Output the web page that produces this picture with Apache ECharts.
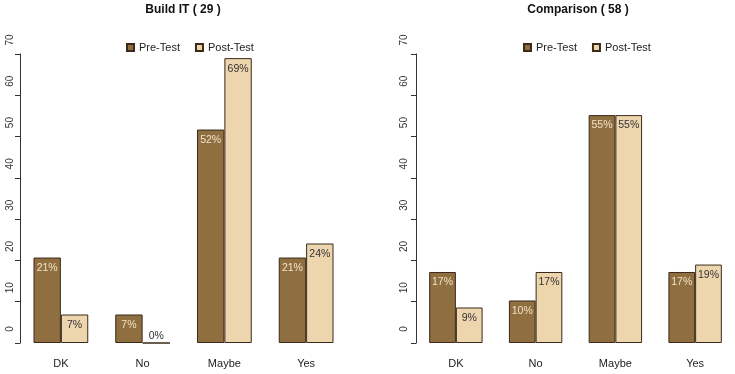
<!DOCTYPE html>
<html>
<head>
<meta charset="utf-8">
<script src="https://cdn.jsdelivr.net/npm/echarts@6/dist/echarts.min.js"></script>
<style>html,body{margin:0;padding:0;background:#fff}#c{width:735px;height:374px}</style>
</head>
<body>
<div id="c"></div>
<script>
const categories = ['DK', 'No', 'Maybe', 'Yes'];
const buildPre = [20.7, 6.9, 51.7, 20.7];
const buildPost = [6.9, 0, 69.0, 24.1];
const compPre = [17.2, 10.3, 55.2, 17.2];
const compPost = [8.6, 17.2, 55.2, 19.0];
const titles = ['Build IT ( 29 )', 'Comparison ( 58 )'];
const seriesNames = ['Pre-Test', 'Post-Test'];
const yTicks = { min: 0, max: 70, interval: 10 };

const FONT = '"Liberation Sans", Arial, sans-serif';
const PRE = '#8f6f40', POST = '#edd5ae', EDGE = '#3b2a1a';

const chart = echarts.init(document.getElementById('c'), null, { renderer: 'canvas' });

function items(vals, color) {
  return vals.map(v => v === 0
    ? { value: v, label: { position: 'top', distance: 1, color: color } }
    : v);
}

function bars(name, vals, idx, fill, lblColor) {
  return {
    type: 'bar', name: name, xAxisIndex: idx, yAxisIndex: idx,
    data: items(vals, '#333'),
    barGap: '0%', barCategoryGap: '33%',
    itemStyle: { color: fill, borderColor: EDGE, borderWidth: 1 },
    label: {
      show: true, position: 'insideTop', distance: 5,
      color: lblColor, fontFamily: FONT, fontSize: 10.5,
      formatter: p => Math.round(p.value) + '%'
    },
    emphasis: { disabled: true },
    animation: false
  };
}

function yAx(idx) {
  return {
    type: 'value', gridIndex: idx, min: yTicks.min, max: yTicks.max, interval: yTicks.interval,
    splitLine: { show: false },
    axisLine: { show: true, lineStyle: { color: '#333' } },
    axisTick: { show: true, length: 5, lineStyle: { color: '#333' } },
    axisLabel: { rotate: 90, margin: idx === 0 ? 5 : 7, padding: [0, 0, 0, 28], color: '#333', fontFamily: FONT, fontSize: 10 }
  };
}

function xAx(idx) {
  return {
    type: 'category', gridIndex: idx, data: categories,
    axisLine: { show: false }, axisTick: { show: false },
    axisLabel: { margin: 15, color: '#222', fontFamily: FONT, fontSize: 11 }
  };
}

chart.setOption({
  backgroundColor: '#fff',
  animation: false,
  title: [
    { text: titles[0], left: 183, top: 4, padding: 0, textAlign: 'center',
      textStyle: { fontFamily: FONT, fontWeight: 'bold', fontSize: 12, color: '#111' } },
    { text: titles[1], left: 578, top: 4, padding: 0, textAlign: 'center',
      textStyle: { fontFamily: FONT, fontWeight: 'bold', fontSize: 12, color: '#111' } }
  ],
  legend: [
    { left: 121, top: 37, itemWidth: 7, itemHeight: 7, itemGap: 15, icon: 'rect',
      data: seriesNames, textStyle: { fontFamily: FONT, fontSize: 11, color: '#222' }, selectedMode: false },
    { left: 518, top: 37, itemWidth: 7, itemHeight: 7, itemGap: 15, icon: 'rect',
      data: seriesNames, textStyle: { fontFamily: FONT, fontSize: 11, color: '#222' }, selectedMode: false }
  ],
  grid: [
    { left: 20, top: 54, width: 327, bottom: 31 },
    { left: 416, top: 54, width: 327, bottom: 31 }
  ],
  xAxis: [xAx(0), xAx(1)],
  yAxis: [yAx(0), yAx(1)],
  series: [
    bars(seriesNames[0], buildPre, 0, PRE, '#f2e3c6'),
    bars(seriesNames[1], buildPost, 0, POST, '#333'),
    bars(seriesNames[0], compPre, 1, PRE, '#f2e3c6'),
    bars(seriesNames[1], compPost, 1, POST, '#333')
  ]
});
</script>
</body>
</html>
